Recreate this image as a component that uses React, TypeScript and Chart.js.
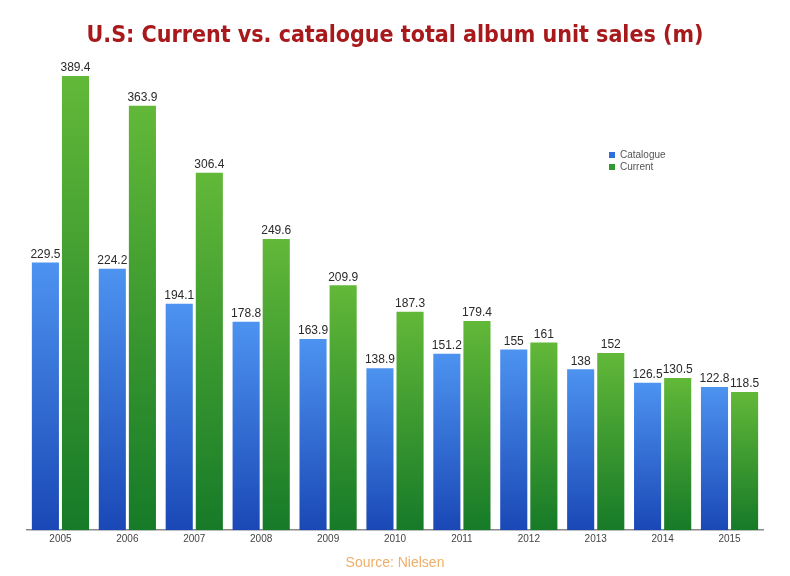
import { useEffect, useRef } from 'react';
import { Chart, registerables } from 'chart.js';

Chart.register(...registerables);

const years = ['2005', '2006', '2007', '2008', '2009', '2010', '2011', '2012', '2013', '2014', '2015'];
const catalogue = [229.5, 224.2, 194.1, 178.8, 163.9, 138.9, 151.2, 155, 138, 126.5, 122.8];
const current = [389.4, 363.9, 306.4, 249.6, 209.9, 187.3, 179.4, 161, 152, 130.5, 118.5];

const blueStops = ['#4d93f0', '#1a48b6'];
const greenStops = ['#62b838', '#167a28'];

function barGradient(stops: string[]) {
  return (ctx: any) => {
    const chart = ctx.chart;
    const y = chart.scales && chart.scales.y;
    if (!chart.chartArea || !y || ctx.type !== 'data') return stops[0];
    const top = y.getPixelForValue(ctx.raw);
    const bottom = y.getPixelForValue(0);
    const g = chart.ctx.createLinearGradient(0, top, 0, bottom);
    g.addColorStop(0, stops[0]);
    g.addColorStop(1, stops[1]);
    return g;
  };
}

// value labels above each bar
const valueLabels = {
  id: 'valueLabels',
  afterDatasetsDraw(chart: any) {
    const c = chart.ctx;
    c.save();
    c.font = '12px "Liberation Sans", Arial, sans-serif';
    c.fillStyle = '#2a2a2a';
    c.textAlign = 'center';
    c.textBaseline = 'bottom';
    chart.data.datasets.forEach((ds: any, i: number) => {
      chart.getDatasetMeta(i).data.forEach((bar: any, j: number) => {
        c.fillText(String(ds.data[j]), bar.x, bar.y - 2);
      });
    });
    c.restore();
  },
};

// small legend placed inside the plot, upper right
const cornerLegend = {
  id: 'cornerLegend',
  afterDraw(chart: any) {
    const c = chart.ctx;
    const x = 609;
    const y = 155;
    c.save();
    c.font = '10px "Liberation Sans", Arial, sans-serif';
    c.textBaseline = 'middle';
    c.textAlign = 'left';
    [['Catalogue', '#2f6fde'], ['Current', '#2f9a32']].forEach(([label, color], i) => {
      c.fillStyle = color;
      c.fillRect(x, y + i * 12 - 3, 6, 6);
      c.fillStyle = '#555';
      c.fillText(label, x + 11, y + i * 12);
    });
    c.restore();
  },
};

export default function App() {
  const canvasRef = useRef<HTMLCanvasElement>(null);
  const chartRef = useRef<Chart | null>(null);

  useEffect(() => {
    document.body.style.margin = '0';
    if (!canvasRef.current) return;
    if (chartRef.current) chartRef.current.destroy();

    chartRef.current = new Chart(canvasRef.current, {
      type: 'bar',
      data: {
        labels: years,
        datasets: [
          {
            label: 'Catalogue',
            data: catalogue,
            backgroundColor: barGradient(blueStops),
            barPercentage: 0.9,
            categoryPercentage: 0.9,
          },
          {
            label: 'Current',
            data: current,
            backgroundColor: barGradient(greenStops),
            barPercentage: 0.9,
            categoryPercentage: 0.9,
          },
        ],
      },
      options: {
        animation: false,
        responsive: true,
        maintainAspectRatio: false,
        layout: { padding: { left: 27, right: 27, top: 0, bottom: 4 } },
        plugins: {
          legend: { display: false },
          tooltip: { enabled: false },
          title: {
            display: true,
            text: 'U.S: Current vs. catalogue total album unit sales (m)',
            color: '#a8191c',
            font: { family: '"DejaVu Sans Condensed", "Liberation Sans Narrow", Arial, sans-serif', size: 23, weight: 'bold' },
            padding: { top: 22, bottom: 14 },
          },
          subtitle: {
            display: true,
            position: 'bottom',
            text: 'Source: Nielsen',
            color: '#f2ae68',
            font: { family: '"Liberation Sans", Arial, sans-serif', size: 14 },
            padding: { top: 7, bottom: 0 },
          },
        },
        scales: {
          x: {
            grid: { display: false, drawTicks: false },
            border: { display: true, color: '#8a8a8a', width: 1.5 },
            ticks: {
              color: '#444',
              padding: 3,
              font: { family: '"Liberation Sans", Arial, sans-serif', size: 10 },
            },
          },
          y: {
            display: false,
            min: 0,
            max: 400,
          },
        },
      },
      plugins: [valueLabels, cornerLegend],
    });

    return () => {
      if (chartRef.current) {
        chartRef.current.destroy();
        chartRef.current = null;
      }
    };
  }, []);

  return (
    <div style={{ width: '790px', height: '576px', position: 'relative', background: '#fff' }}>
      <canvas ref={canvasRef}></canvas>
    </div>
  );
}
